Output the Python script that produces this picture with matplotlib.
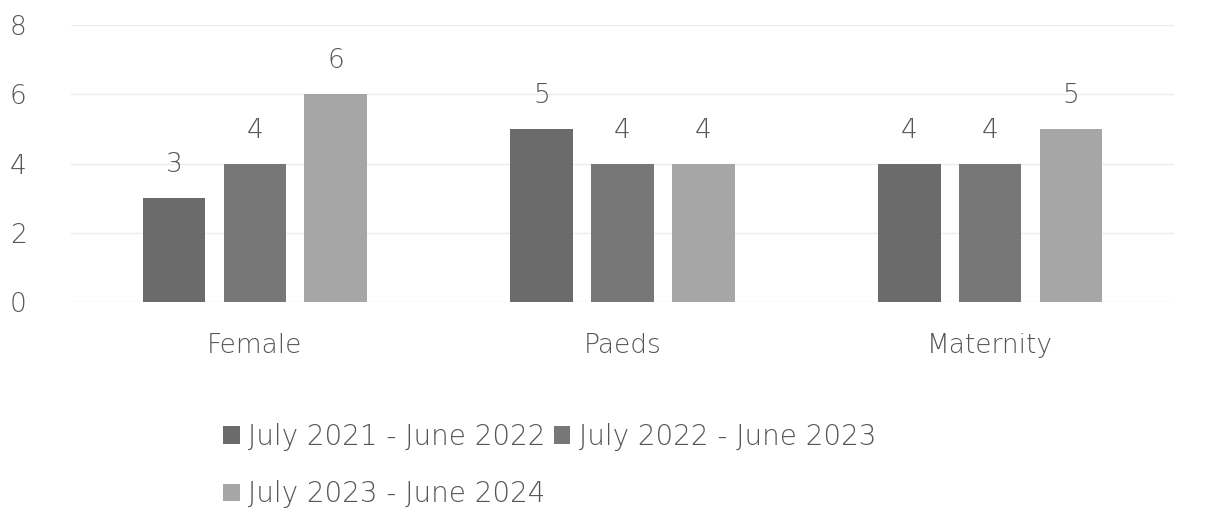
import numpy as np
import matplotlib.pyplot as plt

plt.rcParams['font.family'] = ['DejaVu Sans']
plt.rcParams['font.weight'] = 'light'

# data
categories = ['Female', 'Paeds', 'Maternity']
series_names = ['July 2021 - June 2022', 'July 2022 - June 2023', 'July 2023 - June 2024']
values_2122 = [3, 5, 4]
values_2223 = [4, 4, 4]
values_2324 = [6, 4, 5]
yticks = [0, 2, 4, 6, 8]

colors = ['#6b6b6b', '#777777', '#a6a6a6']
txt = '#555555'

fig = plt.figure(figsize=(12.18, 5.16), dpi=100)
ax = fig.add_axes([71/1218, 214/516, 1103/1218, 277/516])

x = np.arange(len(categories))
w = 0.17
step = 0.22
bars = []
for i, vals in enumerate([values_2122, values_2223, values_2324]):
    b = ax.bar(x + (i - 1) * step, vals, w, color=colors[i], label=series_names[i])
    bars.append(b)
    for xi, v in zip(x + (i - 1) * step, vals):
        ax.text(xi, v + 0.6, str(v), ha='center', va='bottom', fontsize=19, color=txt)

ax.set_xlim(-0.5, 2.5)
ax.set_ylim(0, 8)
ax.set_yticks(yticks)
ax.set_xticks(x)
ax.set_xticklabels(categories)
ax.tick_params(axis='y', length=0, pad=32, labelsize=19, labelcolor=txt)
ax.tick_params(axis='x', length=0, pad=22, labelsize=19, labelcolor=txt)
ax.grid(axis='y', color='#ececec', linewidth=1)
ax.set_axisbelow(True)
for s in ax.spines.values():
    s.set_visible(False)

# legend: entries 1,2 on first row, 3 on second
h = [bars[0], bars[2], bars[1]]
l = [series_names[0], series_names[2], series_names[1]]
fig.legend(h, l, ncol=2, loc='upper left', bbox_to_anchor=(198/1218, 1 - 398/516),
           frameon=False, fontsize=20, labelcolor=txt, handlelength=0.6, handleheight=0.6,
           handletextpad=0.3, columnspacing=0.3, labelspacing=1.05)

fig.savefig('out.png', dpi=100)
